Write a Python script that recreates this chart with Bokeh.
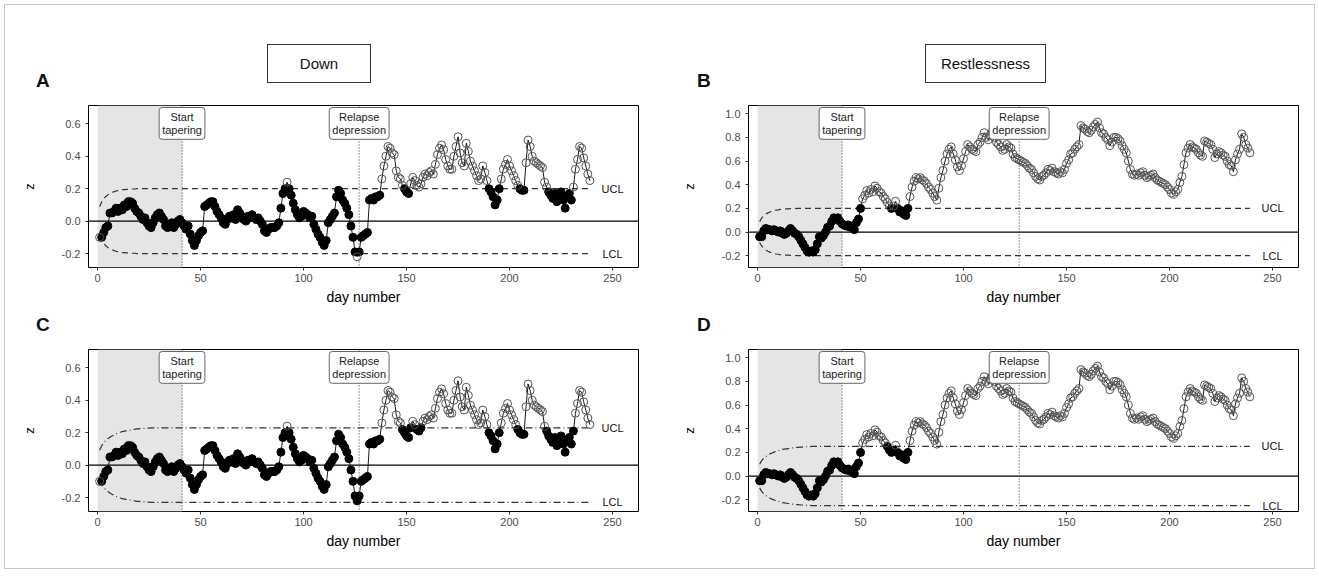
from bokeh.plotting import figure
from bokeh.layouts import column, row
from bokeh.models import (Div, Range1d, FixedTicker, Span, BoxAnnotation, Label,
                          ColumnDataSource, PrintfTickFormatter)
from bokeh.core.properties import value
from bokeh.embed import file_html
from bokeh.resources import INLINE

# ---------------- data ----------------
days = list(range(1, 240))

down = [
    -0.10, -0.10, -0.07, -0.04, -0.03, 0.05, 0.05, 0.06, 0.08, 0.06,
    0.08, 0.07, 0.10, 0.09, 0.12, 0.12, 0.11, 0.08, 0.06, 0.05,
    0.03, 0.01, 0.02, -0.01, -0.03, -0.04, -0.01, 0.02, 0.04, 0.05,
    0.03, 0.01, -0.03, -0.04, -0.02, -0.01, -0.04, -0.02, 0.00, 0.01,
    -0.01, -0.03, -0.05, -0.03, -0.08, -0.12, -0.15, -0.12, -0.09, -0.07,
    -0.06, 0.09, 0.10, 0.11, 0.12, 0.12, 0.09, 0.06, 0.04, 0.02,
    -0.01, -0.02, 0.01, 0.03, 0.02, 0.04, 0.01, 0.07, 0.05, 0.03,
    0.01, 0.00, 0.03, 0.02, 0.04, 0.02, 0.01, 0.02, 0.00, -0.02,
    -0.06, -0.07, -0.05, -0.04, -0.04, -0.04, -0.03, -0.01, 0.08, 0.17,
    0.20, 0.24, 0.20, 0.16, 0.11, 0.07, 0.04, 0.02, 0.03, 0.06,
    0.05, 0.04, 0.02, 0.03, -0.02, -0.05, -0.08, -0.10, -0.13, -0.15,
    -0.12, -0.01, 0.01, 0.03, 0.05, 0.15, 0.19, 0.17, 0.13, 0.11,
    0.08, 0.04, -0.03, -0.10, -0.19, -0.22, -0.19, -0.10, -0.09, -0.08,
    -0.07, 0.13, 0.14, 0.13, 0.15, 0.15, 0.16, 0.26, 0.34, 0.40,
    0.46, 0.45, 0.42, 0.41, 0.31, 0.27, 0.26, 0.22, 0.20, 0.18,
    0.17, 0.23, 0.27, 0.25, 0.22, 0.21, 0.23, 0.27, 0.29, 0.28,
    0.30, 0.31, 0.29, 0.35, 0.41, 0.45, 0.47, 0.44, 0.38, 0.34,
    0.32, 0.32, 0.40, 0.46, 0.52, 0.42, 0.36, 0.34, 0.48, 0.43,
    0.37, 0.34, 0.31, 0.28, 0.25, 0.26, 0.34, 0.30, 0.25, 0.20,
    0.18, 0.15, 0.10, 0.13, 0.20, 0.26, 0.32, 0.35, 0.38, 0.34,
    0.31, 0.28, 0.25, 0.22, 0.20, 0.19, 0.19, 0.36, 0.50, 0.46,
    0.40, 0.37, 0.36, 0.35, 0.34, 0.33, 0.24, 0.21, 0.18, 0.16,
    0.14, 0.17, 0.12, 0.15, 0.18, 0.13, 0.08, 0.15, 0.17, 0.13,
    0.21, 0.32, 0.38, 0.46, 0.45, 0.39, 0.34, 0.29, 0.25,
]

restlessness = [
    -0.04, -0.04, 0.01, 0.03, 0.02, 0.02, 0.01, 0.02, 0.01, 0.00,
    0.01, -0.01, -0.02, -0.01, 0.01, 0.03, 0.01, -0.01, -0.02, -0.04,
    -0.07, -0.10, -0.13, -0.16, -0.17, -0.16, -0.17, -0.15, -0.10, -0.04,
    -0.05, -0.03, 0.00, 0.04, 0.05, 0.09, 0.12, 0.11, 0.12, 0.09,
    0.07, 0.06, 0.05, 0.06, 0.04, 0.05, 0.02, 0.08, 0.11, 0.20,
    0.28, 0.31, 0.35, 0.33, 0.36, 0.34, 0.39, 0.37, 0.34, 0.33,
    0.30, 0.28, 0.25, 0.22, 0.20, 0.22, 0.26, 0.20, 0.17, 0.18,
    0.15, 0.14, 0.20, 0.30, 0.38, 0.43, 0.46, 0.45, 0.46, 0.44,
    0.43, 0.41, 0.38, 0.36, 0.33, 0.30, 0.27, 0.37, 0.46, 0.52,
    0.60, 0.66, 0.70, 0.72, 0.66, 0.61, 0.55, 0.52, 0.56, 0.62,
    0.68, 0.74, 0.72, 0.70, 0.69, 0.68, 0.74, 0.76, 0.80, 0.84,
    0.80, 0.78, 0.82, 0.85, 0.80, 0.76, 0.74, 0.72, 0.69, 0.70,
    0.74, 0.72, 0.71, 0.66, 0.63, 0.62, 0.61, 0.60, 0.59, 0.58,
    0.56, 0.54, 0.53, 0.50, 0.47, 0.45, 0.44, 0.47, 0.48, 0.50,
    0.53, 0.52, 0.54, 0.51, 0.50, 0.49, 0.51, 0.50, 0.53, 0.58,
    0.61, 0.66, 0.67, 0.70, 0.72, 0.74, 0.90, 0.88, 0.87, 0.85,
    0.84, 0.86, 0.89, 0.91, 0.93, 0.88, 0.84, 0.83, 0.80, 0.78,
    0.73, 0.76, 0.80, 0.80, 0.79, 0.77, 0.73, 0.70, 0.67, 0.60,
    0.53, 0.49, 0.48, 0.49, 0.48, 0.50, 0.51, 0.48, 0.46, 0.47,
    0.48, 0.49, 0.46, 0.44, 0.43, 0.42, 0.41, 0.40, 0.38, 0.36,
    0.33, 0.32, 0.34, 0.36, 0.42, 0.47, 0.57, 0.67, 0.71, 0.74,
    0.72, 0.71, 0.70, 0.67, 0.65, 0.64, 0.77, 0.76, 0.75, 0.74,
    0.70, 0.63, 0.66, 0.68, 0.67, 0.65, 0.64, 0.60, 0.57, 0.56,
    0.51, 0.61, 0.66, 0.70, 0.83, 0.80, 0.74, 0.71, 0.67,
]

start_tapering_day = 41
relapse_day = 127
baseline_start = 0
label_day = 250

limit_A = 0.20
limit_B = 0.20
limit_C = 0.23
limit_D = 0.25

# start-up widening of the control limits (fraction of the steady-state limit)
ramp_dashed = [0.44, 0.59, 0.69, 0.76, 0.81, 0.85, 0.88, 0.91, 0.93, 0.94,
               0.96, 0.97, 0.97, 0.98, 0.98, 0.99, 0.99, 0.99]
ramp_dotdash = [0.40, 0.52, 0.60, 0.66, 0.71, 0.75, 0.78, 0.81, 0.84, 0.86,
                0.88, 0.90, 0.91, 0.92, 0.93, 0.94, 0.95, 0.96, 0.97, 0.97,
                0.98, 0.98, 0.99, 0.99, 0.99]

x_ticks = [0, 50, 100, 150, 200, 250]
y_ticks_down = [-0.2, 0.0, 0.2, 0.4, 0.6]
y_ticks_rest = [-0.2, 0.0, 0.2, 0.4, 0.6, 0.8, 1.0]

FONT = "Liberation Sans"


def make_panel(vals, limit, ramp, dash, y_lo, y_hi, y_ticks, mbl, mbr):
    p = figure(frame_width=550, frame_height=162,
               x_range=Range1d(-4.4, 262.6), y_range=Range1d(y_lo, y_hi),
               output_backend="svg", toolbar_location=None,
               min_border_left=mbl, min_border_right=mbr,
               min_border_top=10, min_border_bottom=43)
    p.grid.visible = False
    p.outline_line_color = "black"
    p.outline_line_width = 1
    p.background_fill_color = "white"
    p.border_fill_color = None

    # baseline shading
    p.add_layout(BoxAnnotation(left=baseline_start, right=start_tapering_day,
                               fill_color="#e5e5e5", fill_alpha=1.0,
                               line_color=None, level="underlay"))
    p.add_layout(Span(location=0, dimension="width", line_color="black",
                      line_width=1.3, level="underlay"))

    ramp_full = [ramp[i] if i < len(ramp) else 1.0 for i in range(len(days))]
    ucl = [limit * f for f in ramp_full]
    lcl = [-limit * f for f in ramp_full]
    p.line(days, ucl, line_color="#333333", line_width=1.2, line_dash=dash)
    p.line(days, lcl, line_color="#333333", line_width=1.2, line_dash=dash)

    p.line(days, vals, line_color="black", line_width=0.9)

    inside = [(d, v) for d, v, u, l in zip(days, vals, ucl, lcl) if l <= v <= u]
    outside = [(d, v) for d, v, u, l in zip(days, vals, ucl, lcl) if not (l <= v <= u)]
    src_in = ColumnDataSource(dict(x=[a for a, b in inside], y=[b for a, b in inside]))
    src_out = ColumnDataSource(dict(x=[a for a, b in outside], y=[b for a, b in outside]))
    p.scatter("x", "y", source=src_in, size=8, fill_color="black", line_color="black")
    p.scatter("x", "y", source=src_out, size=8, fill_alpha=0, line_color="#555555",
              line_width=1)

    p.text(x=[label_day, label_day], y=[limit, -limit], text=["UCL", "LCL"],
           text_align="center", text_baseline="middle", text_font_size="11px",
           text_font=value(FONT), text_color="#111111")

    for d, t in [(start_tapering_day, "Start\ntapering"), (relapse_day, "Relapse\ndepression")]:
        p.add_layout(Span(location=d, dimension="height", line_color="#333333",
                          line_width=1, line_dash="1 2"))
        p.add_layout(Label(x=d, y=y_hi, y_offset=-2, text=t, text_align="center",
                           text_baseline="top", text_font_size="11px", text_font=FONT,
                           text_color="#222222", text_line_height=1.15,
                           background_fill_color="white", border_line_color="#666666",
                           border_line_width=1, padding=3, border_radius=3))

    p.xaxis.ticker = FixedTicker(ticks=x_ticks)
    p.yaxis.ticker = FixedTicker(ticks=y_ticks)
    p.yaxis.formatter = PrintfTickFormatter(format="%.1f")
    p.xaxis.axis_label = "day number"
    p.yaxis.axis_label = "z"
    for ax in (p.xaxis, p.yaxis):
        ax.axis_line_color = None
        ax.major_tick_line_color = "#333333"
        ax.major_tick_out = 3
        ax.major_tick_in = 0
        ax.minor_tick_line_color = None
        ax.major_label_text_font = FONT
        ax.major_label_text_font_size = "11px"
        ax.major_label_text_color = "#4d4d4d"
        ax.axis_label_text_font = FONT
        ax.axis_label_text_font_style = "normal"
        ax.axis_label_text_color = "black"
        ax.major_label_standoff = 3
    p.yaxis.major_label_standoff = 5
    p.xaxis.axis_label_text_font_size = "14px"
    p.xaxis.axis_label_standoff = 4
    p.yaxis.axis_label_text_font_size = "13px"
    p.yaxis.axis_label_standoff = 22
    return p


pA = make_panel(down, limit_A, ramp_dashed, "6 4", -0.286, 0.713, y_ticks_down, 83, 24)
pB = make_panel(restlessness, limit_B, ramp_dashed, "6 4", -0.30, 1.07, y_ticks_rest, 86, 16)
pC = make_panel(down, limit_C, ramp_dotdash, "7 3 1 3", -0.286, 0.713, y_ticks_down, 83, 24)
pD = make_panel(restlessness, limit_D, ramp_dotdash, "7 3 1 3", -0.30, 1.07, y_ticks_rest, 86, 16)

BOX = ("position:absolute;border:1px solid #333;background:white;"
       "font-family:'Liberation Sans',Arial,sans-serif;font-size:15px;color:#111;"
       "display:flex;align-items:center;justify-content:center;box-sizing:border-box;")
LET = ("position:absolute;font-family:'Liberation Sans',Arial,sans-serif;"
       "font-size:19px;font-weight:bold;color:#111;line-height:20px;")

header = Div(text=(
    '<div style="position:relative;width:1309px;height:90px;">'
    f'<div style="{BOX}left:262px;top:39px;width:104px;height:39px;">Down</div>'
    f'<div style="{BOX}left:920px;top:39px;width:121px;height:39px;">Restlessness</div>'
    f'<div style="{LET}left:31px;top:66px;">A</div>'
    f'<div style="{LET}left:692px;top:66px;">B</div>'
    '</div>'), width=1309, height=90, margin=0)

mid = Div(text=(
    '<div style="position:relative;width:1309px;height:29px;">'
    f'<div style="{LET}left:31px;top:5px;">C</div>'
    f'<div style="{LET}left:692px;top:5px;">D</div>'
    '</div>'), width=1309, height=29, margin=0)

footer = Div(text="", width=1309, height=14, margin=0)

layout = column(header, row(pA, pB), mid, row(pC, pD), footer,
                margin=(4, 4, 4, 4), styles={"border": "1px solid #c8c8c8"})

open("out.html", "w").write(file_html(layout, INLINE))
